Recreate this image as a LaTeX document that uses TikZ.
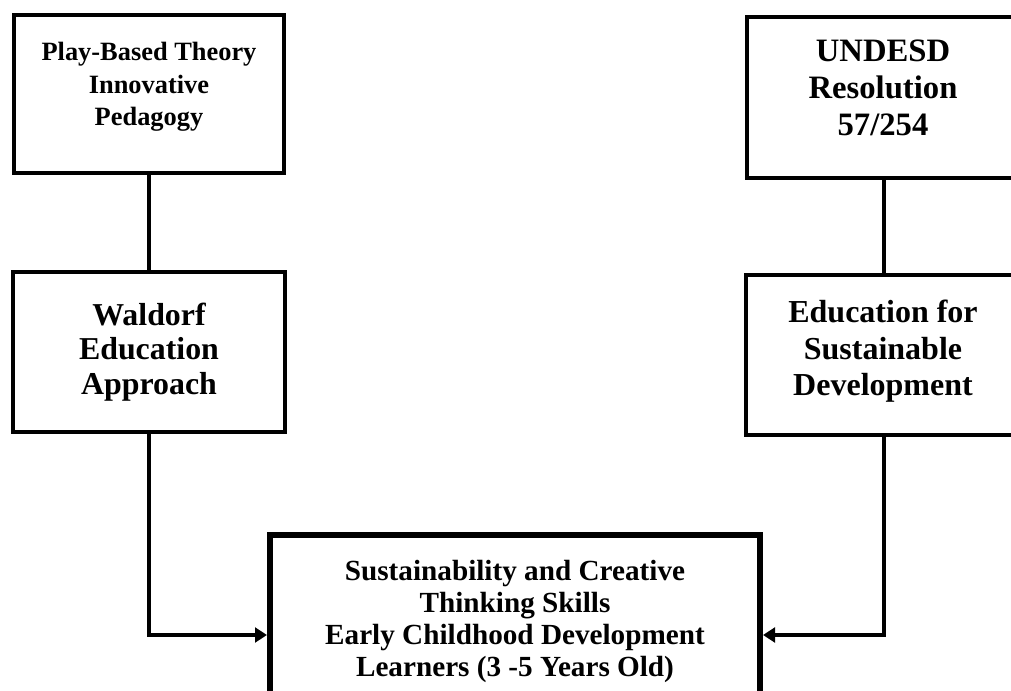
\documentclass[tikz,border=0pt]{standalone}
\usepackage{fontspec}
\setmainfont{Liberation Serif}
\usetikzlibrary{arrows.meta}

\begin{document}
\begin{tikzpicture}[x=0.75pt, y=-0.75pt, >={Triangle[length=9pt,width=11pt]},
    box/.style={draw, line width=3.4pt},
    txt/.style={align=center},
    link/.style={line width=3pt}]
  \clip (0,0) rectangle (1011,691);

  % left column
  \node[box, minimum width=202.5pt, minimum height=118.5pt] (play) at (149,94) {};
  \node[txt, font=\fontsize{19.8}{24.4}\selectfont\bfseries] (playtext) at (149,87)
    {Play-Based Theory\\Innovative\\Pedagogy};
  \node[box, minimum width=204pt, minimum height=120pt] (waldorf) at (149,352) {};
  \node[txt, font=\fontsize{23.9}{25.8}\selectfont\bfseries] (waldorftext) at (149,352)
    {Waldorf\\Education\\Approach};

  % right column
  \node[box, minimum width=205.5pt, minimum height=120.75pt] (undesd) at (884,97.5) {};
  \node[txt, font=\fontsize{24.5}{27.8}\selectfont\bfseries] (undesdtext) at (883,88)
    {UNDESD\\Resolution\\57/254};
  \node[box, minimum width=207pt, minimum height=120pt] (esd) at (884,355) {};
  \node[txt, font=\fontsize{24}{27.4}\selectfont\bfseries] (esdtext) at (883,351.5)
    {Education for\\Sustainable\\Development};

  % outcome box
  \node[box, line width=4.5pt, minimum width=367.5pt, minimum height=150pt] (skills) at (515,635) {};
  \node[txt, font=\fontsize{21.9}{24}\selectfont\bfseries] (skillstext) at (515,621.5)
    {Sustainability and Creative\\Thinking Skills\\Early Childhood Development\\Learners (3 -5 Years Old)};

  % links
  \draw[link] (play) -- (waldorf);
  \draw[link] (undesd) -- (esd);
  \draw[link, ->] (waldorf) |- (skills);
  \draw[link, ->] (esd) |- (skills);
\end{tikzpicture}
\end{document}
